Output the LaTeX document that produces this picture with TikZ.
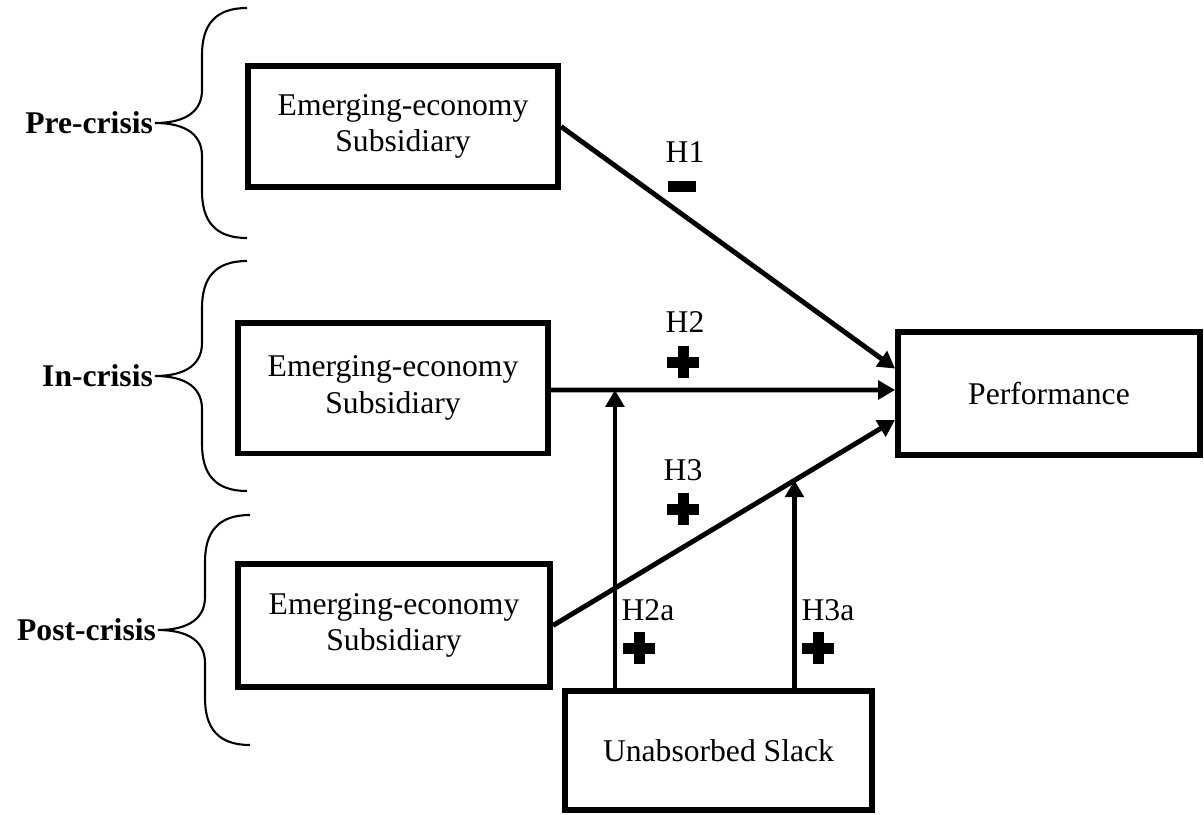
\documentclass[tikz,border=0pt]{standalone}
\usepackage{fontspec}
\setmainfont{Liberation Serif}
\usetikzlibrary{arrows.meta,calc}

\begin{document}
\begin{tikzpicture}[x=0.02cm, y=-0.02cm,
  every node/.style={font=\fontsize{18}{20.7}\selectfont},
  box/.style={draw, line width=3.4pt, align=center, inner sep=0pt},
  phase/.style={font=\fontsize{18}{20.7}\selectfont\bfseries, anchor=east, inner sep=1pt},
  hyp/.style={inner sep=0pt},
  arr/.style={line width=2.8pt, -{Triangle[length=9.6pt,width=10.5pt]}},
  brace/.pic={\draw[line width=1.2pt] (92,-115) .. controls (60,-115) and (47,-98) .. (47,-68) -- (47,-33) .. controls (47,-8) and (25,0) .. (0,0) .. controls (25,0) and (47,8) .. (47,33) -- (47,68) .. controls (47,98) and (60,115) .. (92,115);},
  plus/.pic={\fill (-16,-5.5) rectangle (16,5.5); \fill (-5.5,-16) rectangle (5.5,16);},
  minus/.pic={\fill (-14,-5.5) rectangle (14,5.5);}]
\useasboundingbox (0,0) rectangle (1204,815);
\node[box, minimum width=6.2cm, minimum height=2.42cm] (sub1) at (403,126.5) {Emerging-economy\\Subsidiary};
\node[box, minimum width=6.2cm, minimum height=2.62cm] (sub2) at (393,388) {Emerging-economy\\Subsidiary};
\node[box, minimum width=6.24cm, minimum height=2.46cm] (sub3) at (394,625.5) {Emerging-economy\\Subsidiary};
\node[box, minimum width=6.04cm, minimum height=2.46cm] (perf) at (1049,393.5) {Performance};
\node[box, minimum width=6.14cm, minimum height=2.38cm] (slack) at (718.5,750.5) {Unabsorbed Slack};
\pic at (155,123) {brace};
\pic at (155,376) {brace};
\pic at (158,630) {brace};
\node[phase] (pre) at (155,123) {Pre-crisis};
\node[phase] (in) at (155,376) {In-crisis};
\node[phase] (post) at (158,630) {Post-crisis};
\draw[arr] (sub1.east) -- ([yshift=14.2pt]perf.west);
\draw[arr] (sub2.east |- 0,390) -- ([yshift=2pt]perf.west) coordinate[pos=0.186] (m2);
\draw[arr] (sub3.east) -- ([yshift=-15pt]perf.west) coordinate[pos=0.706] (m3);
\draw[arr] (slack.north -| m2) -- (m2);
\draw[arr] (slack.north -| m3) -- (m3);
\node[hyp] (h1) at (685,152) {H1};
\node[hyp] (h2) at (685,322) {H2};
\node[hyp] (h3) at (683,470) {H3};
\node[hyp] (h2a) at (648,610) {H2a};
\node[hyp] (h3a) at (828,610) {H3a};
\pic at (682,186) {minus};
\pic at (683,362) {plus};
\pic at (683,509) {plus};
\pic at (639,648) {plus};
\pic at (818,648) {plus};
\end{tikzpicture}
\end{document}
